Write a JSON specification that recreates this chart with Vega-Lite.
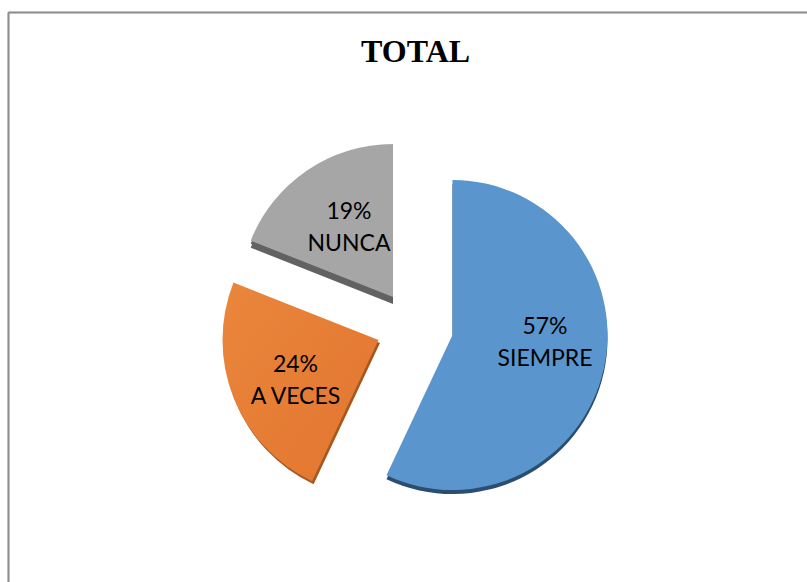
{
"$schema":"https://vega.github.io/schema/vega-lite/v6.json",
"width":807,"height":582,"padding":0,"autosize":{"type":"none"},
"background":"white",
"view":{"stroke":null},
"title":{"text":"TOTAL","font":"Liberation Serif","fontSize":32,"fontWeight":"bold","color":"#000000","anchor":"start","orient":"top","offset":-62,"baseline":"alphabetic","dx":361,"dy":32},
"data":{"values":[{"categoria":"SIEMPRE","pct":57},{"categoria":"A VECES","pct":24},{"categoria":"NUNCA","pct":19}]},
"transform":[
{"stack":"pct","sort":[{"field":"pct","order":"descending"}],"groupby":[],"as":["s0","s1"]},
{"calculate":"datum.pct+'%\\n'+datum.categoria","as":"label"}
],
"encoding":{
"theta":{"field":"s0","type":"quantitative","scale":{"domain":[0,100]},"stack":null},
"theta2":{"field":"s1"}
},
"layer":[
{"mark":{"type":"rule","color":"#8f8f8f","strokeWidth":1.5},"encoding":{"theta":null,"theta2":null,"x":{"value":8.5},"y":{"value":12.5},"y2":{"value":582}}},
{"mark":{"type":"rule","color":"#8f8f8f","strokeWidth":1.5},"encoding":{"theta":null,"theta2":null,"y":{"value":12.5},"x":{"value":8.5},"x2":{"value":807}}},
{"transform":[{"filter":"datum.categoria==='NUNCA'"}],"mark":{"type":"arc","outerRadius":153,"color":"#626262","xOffset":-10.5,"yOffset":13}},
{"transform":[{"filter":"datum.categoria==='NUNCA'"}],"mark":{"type":"arc","outerRadius":153,"color":"#626262","xOffset":-10.5,"yOffset":9}},
{"transform":[{"filter":"datum.categoria==='NUNCA'"}],"mark":{"type":"arc","outerRadius":153,"color":"#a6a6a6","xOffset":-10.5,"yOffset":6}},
{"transform":[{"filter":"datum.categoria==='A VECES'"}],"mark":{"type":"arc","outerRadius":156,"color":"#a4581f","xOffset":-23.5,"yOffset":52}},
{"transform":[{"filter":"datum.categoria==='A VECES'"}],"mark":{"type":"arc","outerRadius":156,"color":{"gradient":"linear","x1":0,"y1":0,"x2":1,"y2":1,"stops":[{"offset":0,"color":"#ea863c"},{"offset":1,"color":"#e2752f"}]},"xOffset":-25,"yOffset":49}},
{"transform":[{"filter":"datum.categoria==='SIEMPRE'"}],"mark":{"type":"arc","outerRadius":155,"color":"#2b4e70","xOffset":49,"yOffset":48}},
{"transform":[{"filter":"datum.categoria==='SIEMPRE'"}],"mark":{"type":"arc","outerRadius":155,"color":"#5a96cd","xOffset":49,"yOffset":44}},
{"transform":[{"filter":"datum.categoria==='SIEMPRE'"}],"mark":{"type":"text","font":"Lato","fontSize":23,"color":"#000000","lineBreak":"\n","lineHeight":32,"align":"center","baseline":"middle","xOffset":141.5,"yOffset":36},"encoding":{"theta":null,"theta2":null,"text":{"field":"label"}}},
{"transform":[{"filter":"datum.categoria==='A VECES'"}],"mark":{"type":"text","font":"Lato","fontSize":23,"color":"#000000","lineBreak":"\n","lineHeight":32,"align":"center","baseline":"middle","xOffset":-108,"yOffset":74},"encoding":{"theta":null,"theta2":null,"text":{"field":"label"}}},
{"transform":[{"filter":"datum.categoria==='NUNCA'"}],"mark":{"type":"text","font":"Lato","fontSize":23,"color":"#000000","lineBreak":"\n","lineHeight":32,"align":"center","baseline":"middle","xOffset":-54.5,"yOffset":-79},"encoding":{"theta":null,"theta2":null,"text":{"field":"label"}}}
]
}
